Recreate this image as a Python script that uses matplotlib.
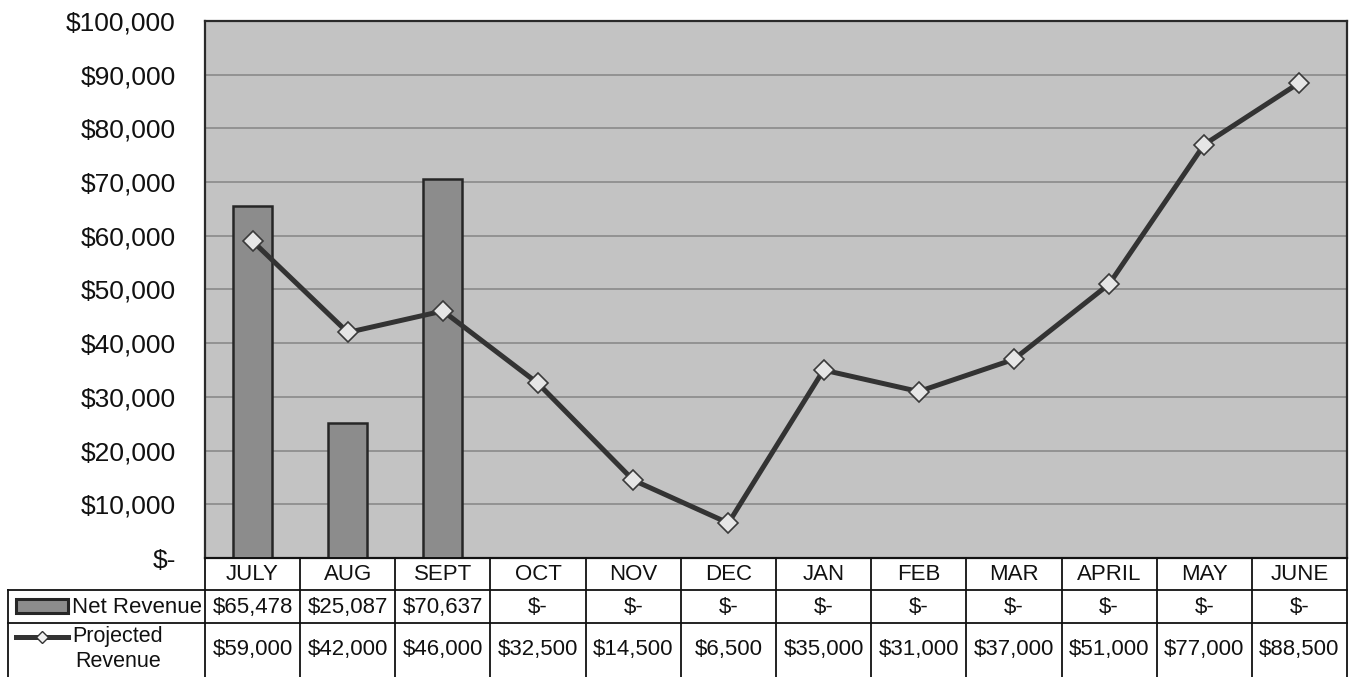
import matplotlib.pyplot as plt
from matplotlib.ticker import FuncFormatter, MultipleLocator
from matplotlib.transforms import blended_transform_factory
from matplotlib.patches import Rectangle
from matplotlib.lines import Line2D

plt.rcParams['font.family'] = ['Liberation Sans', 'DejaVu Sans']

months = ['JULY', 'AUG', 'SEPT', 'OCT', 'NOV', 'DEC',
          'JAN', 'FEB', 'MAR', 'APRIL', 'MAY', 'JUNE']
net_revenue = [65478, 25087, 70637, 0, 0, 0, 0, 0, 0, 0, 0, 0]
projected_revenue = [59000, 42000, 46000, 32500, 14500, 6500,
                     35000, 31000, 37000, 51000, 77000, 88500]


def money(v):
    if v == 0:
        return '$-'
    return '${:,.0f}'.format(v)


W, H = 1352, 677
fig = plt.figure(figsize=(W / 100, H / 100), dpi=100)

left, right, top, bottom = 205, 1347, 21, 558
ax = fig.add_axes([left / W, 1 - bottom / H, (right - left) / W, (bottom - top) / H])
ax.set_facecolor('#c3c3c3')

x = list(range(len(months)))
bar_vals = [v if v else float('nan') for v in net_revenue]
ax.bar(x, bar_vals, width=0.41, color='#8c8c8c', edgecolor='#262626',
       linewidth=1.8, zorder=3)
ax.plot(x, projected_revenue, color='#333333', linewidth=3.6, zorder=4,
        marker='D', markersize=10, markerfacecolor='#e6e6e6',
        markeredgecolor='#3a3a3a', markeredgewidth=1.2)

ax.set_xlim(-0.5, len(months) - 0.5)
ax.set_ylim(0, 100000)
ax.yaxis.set_major_locator(MultipleLocator(10000))
ax.yaxis.set_major_formatter(FuncFormatter(lambda v, p: money(v)))
ax.grid(axis='y', color='#8a8a8a', linewidth=1.2, zorder=1)
ax.set_axisbelow(True)
ax.set_xticks([])
ax.tick_params(axis='y', length=0, pad=21, labelsize=19, labelcolor='#111111')
for s in ax.spines.values():
    s.set_color('#2a2a2a')
    s.set_linewidth(1.6)

# Data table below the plot, drawn in pixel coordinates
tax = fig.add_axes([0, 0, 1, 1])
tax.set_xlim(0, W)
tax.set_ylim(H, 0)
tax.axis('off')
tax.patch.set_alpha(0)
bt = blended_transform_factory(ax.transData, tax.transData)

lc = '#111111'
lw = 1.3
row_hdr, row1, row2, row_end = bottom, 590, 623, H + 2
tab_left = 8

for i in range(len(months) + 1):
    tax.add_line(Line2D([i - 0.5, i - 0.5], [row_hdr, row_end], color=lc,
                        linewidth=lw, transform=bt))
tax.plot([tab_left, right], [row1, row1], color=lc, linewidth=lw)
tax.plot([tab_left, right], [row2, row2], color=lc, linewidth=lw)
tax.plot([tab_left, tab_left], [row1, row_end], color=lc, linewidth=lw)
tax.plot([left, right], [row_hdr, row_hdr], color=lc, linewidth=lw)

fs = 16
for i, m in enumerate(months):
    tax.text(i, (row_hdr + row1) / 2 + 1, m, transform=bt, ha='center',
             va='center', fontsize=fs, color='#111111')
    tax.text(i, (row1 + row2) / 2 + 1, money(net_revenue[i]), transform=bt,
             ha='center', va='center', fontsize=fs, color='#111111')
    tax.text(i, (row2 + 677) / 2 - 1, money(projected_revenue[i]), transform=bt,
             ha='center', va='center', fontsize=fs, color='#111111')

# Legend keys in the label column
tax.add_patch(Rectangle((16, 599), 52, 14, facecolor='#8c8c8c',
                        edgecolor='#262626', linewidth=2.2))
tax.text(72, (row1 + row2) / 2 + 1, 'Net Revenue', ha='left', va='center',
         fontsize=fs, color='#111111')
tax.plot([16, 68], [637, 637], color='#333333', linewidth=3.6)
tax.plot([42], [637], marker='D', markersize=6, markerfacecolor='#f0f0f0',
         markeredgecolor='#333333', markeredgewidth=1.0)
tax.text(118, 649, 'Projected\nRevenue', ha='center', va='center',
         fontsize=fs - 0.5, color='#111111', linespacing=1.2)

fig.savefig('out.png', dpi=100)
